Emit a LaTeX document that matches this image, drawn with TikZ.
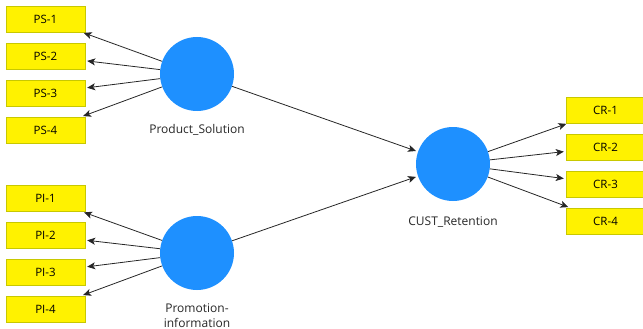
\documentclass[tikz,border=0pt]{standalone}
\usepackage{fontspec}
\setmainfont{Open Sans}
\usepackage{xcolor}
\usepackage{tikz}
\usetikzlibrary{arrows.meta,positioning}
\definecolor{latblue}{RGB}{30,144,255}
\definecolor{indline}{RGB}{200,200,0}

\begin{document}
\begin{tikzpicture}[x=1pt,y=-1pt,
  ind/.style={draw=indline,fill=yellow,minimum width=79pt,minimum height=26pt,inner sep=0pt,font=\fontsize{11.5}{13}\selectfont},
  lat/.style={circle,fill=latblue,minimum size=74pt,inner sep=0pt},
  lbl/.style={font=\fontsize{12}{15}\selectfont,text=black!85,align=center},
  arr/.style={black!85,line width=0.8pt,-{Stealth[length=8pt,width=7pt,inset=2pt]},shorten >=2pt}]
%\draw[step=10pt,red,thin] (0,0) grid (643,329);
\useasboundingbox (0,0) rectangle (643,329);

% latent variables
\node[lat] (ps) at (197,74) {};
\node[lat] (pi) at (197,253) {};
\node[lat] (cr) at (453,164) {};

\node[lbl] (pslbl) at (197,130) {Product\_Solution};
\node[lbl,anchor=north] (pilbl) at (197,300) {Promotion-\\information};
\node[lbl] (crlbl) at (453,222) {CUST\_Retention};

% indicators
\node[ind] (ps1) at (45.5,19) {PS-1};
\node[ind] (ps2) at (45.5,56) {PS-2};
\node[ind] (ps3) at (45.5,93) {PS-3};
\node[ind] (ps4) at (45.5,130) {PS-4};

\node[ind] (pi1) at (45.5,198.5) {PI-1};
\node[ind] (pi2) at (45.5,235.5) {PI-2};
\node[ind] (pi3) at (45.5,272) {PI-3};
\node[ind] (pi4) at (45.5,309) {PI-4};

\node[ind] (cr1) at (605.5,110) {CR-1};
\node[ind] (cr2) at (605.5,147) {CR-2};
\node[ind] (cr3) at (605.5,184) {CR-3};
\node[ind] (cr4) at (605.5,221) {CR-4};

% loadings
\draw[arr] (ps) -- (ps1);
\draw[arr] (ps) -- (ps2);
\draw[arr] (ps) -- (ps3);
\draw[arr] (ps) -- (ps4);

\draw[arr] (pi) -- (pi1);
\draw[arr] (pi) -- (pi2);
\draw[arr] (pi) -- (pi3);
\draw[arr] (pi) -- (pi4);

\draw[arr] (cr) -- (cr1);
\draw[arr] (cr) -- (cr2);
\draw[arr] (cr) -- (cr3);
\draw[arr] (cr) -- (cr4);

% paths
\draw[arr] (ps) -- (cr);
\draw[arr] (pi) -- (cr);

\end{tikzpicture}
\end{document}
